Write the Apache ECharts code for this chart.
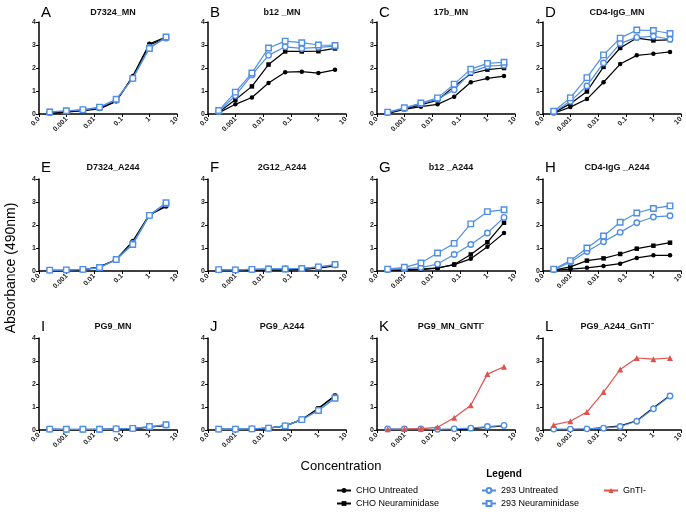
<!DOCTYPE html>
<html>
<head>
<meta charset="utf-8">
<script src="https://cdn.jsdelivr.net/npm/echarts@6/dist/echarts.min.js"></script>
<style>
html,body{margin:0;padding:0;background:#fff;}
#chart{width:686px;height:515px;}
</style>
</head>
<body>
<div id="chart"></div>
<script>
// ---- data ----
const concentrations = [0.000244, 0.000977, 0.0039, 0.0156, 0.0625, 0.25, 1, 4];
const xTickLabels = ["0.0", "0.001", "0.01", "0.1", "1", "10"];
const yTickLabels = ["0", "1", "2", "3", "4"];
const seriesNames = ["CHO Untreated", "CHO Neuraminidase", "293 Untreated", "293 Neuraminidase", "GnTI-"];
const panelLetters = ["A","B","C","D","E","F","G","H","I","J","K","L"];
const panelTitles = ["D7324_MN","b12 _MN","17b_MN","CD4-IgG_MN","D7324_A244","2G12_A244","b12 _A244","CD4-IgG _A244","PG9_MN","PG9_A244","PG9_MN_GNTI\u207B","PG9_A244_GnTI\u207B"];

const A_choUntreated = [0.03,0.08,0.15,0.22,0.55,1.65,3.05,3.35];
const A_choNeuraminidase = [0.04,0.09,0.16,0.25,0.57,1.6,3.0,3.3];
const A_293Untreated = [0.08,0.13,0.18,0.28,0.62,1.55,2.9,3.3];
const A_293Neuraminidase = [0.09,0.14,0.19,0.3,0.64,1.55,2.85,3.35];

const B_choUntreated = [0.05,0.42,0.72,1.35,1.82,1.84,1.78,1.92];
const B_choNeuraminidase = [0.08,0.62,1.2,2.15,2.72,2.72,2.73,2.85];
const B_293Untreated = [0.1,0.8,1.7,2.55,2.92,2.85,2.9,2.95];
const B_293Neuraminidase = [0.15,0.95,1.78,2.87,3.17,3.1,3.0,2.98];

const C_choUntreated = [0.03,0.2,0.32,0.42,0.75,1.38,1.55,1.65];
const C_choNeuraminidase = [0.05,0.22,0.4,0.6,1.2,1.75,1.93,2.0];
const C_293Untreated = [0.06,0.24,0.45,0.65,1.05,1.82,2.08,2.12];
const C_293Neuraminidase = [0.08,0.27,0.48,0.7,1.3,1.95,2.2,2.25];

const D_choUntreated = [0.03,0.3,0.65,1.38,2.17,2.55,2.62,2.7];
const D_choNeuraminidase = [0.05,0.45,0.98,2.05,2.87,3.3,3.2,3.22];
const D_293Untreated = [0.08,0.55,1.22,2.22,3.07,3.33,3.38,3.25];
const D_293Neuraminidase = [0.12,0.7,1.58,2.57,3.3,3.65,3.63,3.5];

const E_choUntreated = [0.02,0.03,0.05,0.18,0.5,1.3,2.45,2.8];
const E_choNeuraminidase = [0.02,0.03,0.06,0.17,0.5,1.25,2.43,2.85];
const E_293Untreated = [0.04,0.04,0.07,0.14,0.5,1.2,2.42,2.92];
const E_293Neuraminidase = [0.04,0.05,0.07,0.15,0.5,1.15,2.42,2.97];

const F_choUntreated = [0.03,0.03,0.04,0.05,0.05,0.07,0.12,0.22];
const F_choNeuraminidase = [0.03,0.03,0.04,0.06,0.06,0.08,0.14,0.24];
const F_293Untreated = [0.05,0.05,0.07,0.09,0.09,0.11,0.17,0.27];
const F_293Neuraminidase = [0.06,0.05,0.07,0.09,0.09,0.11,0.18,0.28];

const G_choUntreated = [0.03,0.04,0.06,0.12,0.28,0.53,1.05,1.65];
const G_choNeuraminidase = [0.04,0.06,0.08,0.14,0.28,0.72,1.25,2.1];
const G_293Untreated = [0.06,0.1,0.15,0.3,0.72,1.15,1.65,2.33];
const G_293Neuraminidase = [0.08,0.16,0.35,0.78,1.2,2.05,2.58,2.66];

const H_choUntreated = [0.03,0.08,0.14,0.22,0.32,0.57,0.68,0.68];
const H_choNeuraminidase = [0.04,0.18,0.45,0.55,0.74,0.97,1.1,1.23];
const H_293Untreated = [0.06,0.38,0.85,1.27,1.68,2.1,2.35,2.4];
const H_293Neuraminidase = [0.08,0.45,1.0,1.52,2.12,2.52,2.72,2.83];

const I_choUntreated = [0.02,0.02,0.02,0.02,0.04,0.06,0.12,0.2];
const I_choNeuraminidase = [0.03,0.02,0.02,0.03,0.04,0.06,0.13,0.21];
const I_293Untreated = [0.04,0.03,0.03,0.03,0.05,0.07,0.14,0.22];
const I_293Neuraminidase = [0.04,0.03,0.03,0.03,0.05,0.07,0.15,0.23];

const J_choUntreated = [0.03,0.03,0.04,0.08,0.18,0.45,0.95,1.5];
const J_choNeuraminidase = [0.03,0.03,0.04,0.08,0.18,0.45,0.93,1.48];
const J_293Untreated = [0.04,0.04,0.05,0.08,0.18,0.45,0.86,1.4];
const J_293Neuraminidase = [0.04,0.04,0.05,0.08,0.18,0.45,0.85,1.38];

const K_choUntreated = [0.02,0.02,0.02,0.02,0.03,0.05,0.12,0.18];
const K_293Untreated = [0.05,0.05,0.05,0.03,0.05,0.08,0.15,0.2];
const K_gnti = [0.03,0.04,0.06,0.12,0.53,1.08,2.43,2.75];

const L_choUntreated = [0.02,0.02,0.04,0.1,0.18,0.4,0.97,1.5];
const L_293Untreated = [0.04,0.04,0.05,0.08,0.15,0.38,0.92,1.48];
const L_gnti = [0.22,0.38,0.78,1.65,2.63,3.13,3.08,3.13];

const panelSeries = [
  [A_choUntreated, A_choNeuraminidase, A_293Untreated, A_293Neuraminidase, null],
  [B_choUntreated, B_choNeuraminidase, B_293Untreated, B_293Neuraminidase, null],
  [C_choUntreated, C_choNeuraminidase, C_293Untreated, C_293Neuraminidase, null],
  [D_choUntreated, D_choNeuraminidase, D_293Untreated, D_293Neuraminidase, null],
  [E_choUntreated, E_choNeuraminidase, E_293Untreated, E_293Neuraminidase, null],
  [F_choUntreated, F_choNeuraminidase, F_293Untreated, F_293Neuraminidase, null],
  [G_choUntreated, G_choNeuraminidase, G_293Untreated, G_293Neuraminidase, null],
  [H_choUntreated, H_choNeuraminidase, H_293Untreated, H_293Neuraminidase, null],
  [I_choUntreated, I_choNeuraminidase, I_293Untreated, I_293Neuraminidase, null],
  [J_choUntreated, J_choNeuraminidase, J_293Untreated, J_293Neuraminidase, null],
  [K_choUntreated, null, K_293Untreated, null, K_gnti],
  [L_choUntreated, null, L_293Untreated, null, L_gnti]
];

// ---- layout / style ----
const FONT = "Liberation Sans, Arial, sans-serif";
const BLUE = "#4f8ee6";
const RED = "#e0524c";
const colLeft = [39, 208, 377, 543];
const rowTop = [22, 179, 338];
const gridW = 138, gridH = 92;

const seriesStyle = [
  {symbol:"circle", size:4.5, color:"#000", fill:"#000"},
  {symbol:"rect", size:4.5, color:"#000", fill:"#000"},
  {symbol:"circle", size:5.5, color:BLUE, fill:"#fff"},
  {symbol:"rect", size:5.5, color:BLUE, fill:"#fff"},
  {symbol:"triangle", size:6, color:RED, fill:RED}
];

const grids = [], xAxes = [], yAxes = [], titles = [], series = [];
for (let i = 0; i < 12; i++) {
  const r = Math.floor(i / 4), c = i % 4;
  grids.push({left: colLeft[c], top: rowTop[r], width: gridW, height: gridH});
  xAxes.push({
    type: "log", gridIndex: i, min: 0.0001, max: 10, logBase: 10,
    axisLine: {lineStyle: {color: "#000", width: 1.5}},
    axisTick: {show: true, length: 3, lineStyle: {color: "#000", width: 1}},
    splitLine: {show: false},
    axisLabel: {
      rotate: 45, fontSize: 7, fontWeight: "bold", color: "#222", fontFamily: FONT, margin: 4,
      formatter: v => xTickLabels[Math.round(Math.log10(v)) + 4]
    }
  });
  yAxes.push({
    type: "value", gridIndex: i, min: 0, max: 4, interval: 1,
    axisLine: {show: true, lineStyle: {color: "#000", width: 1.5}},
    axisTick: {show: true, length: 3, lineStyle: {color: "#000"}},
    splitLine: {show: false},
    axisLabel: {fontSize: 7, fontWeight: "bold", color: "#222", fontFamily: FONT, margin: 3,
      formatter: v => yTickLabels[Math.round(v)]}
  });
  titles.push({
    text: panelTitles[i], left: colLeft[c] + gridW / 2, top: rowTop[r] - (r === 0 ? 19 : 21), textAlign: "center",
    textStyle: {fontSize: 9, fontWeight: "bold", color: "#111", fontFamily: FONT}
  });
  titles.push({
    text: panelLetters[i], left: colLeft[c] - 3, top: rowTop[r] - (r === 0 ? 22 : 24),
    textStyle: {fontSize: 15, fontWeight: "normal", color: "#000", fontFamily: FONT}
  });
  panelSeries[i].forEach((arr, j) => {
    if (!arr) return;
    const st = seriesStyle[j];
    series.push({
      type: "line", name: seriesNames[j], xAxisIndex: i, yAxisIndex: i,
      data: concentrations.map((x, k) => [x, arr[k]]),
      symbol: st.symbol, symbolSize: st.size, showAllSymbol: true,
      lineStyle: {color: st.color, width: 1.2},
      itemStyle: {color: st.fill, borderColor: st.color, borderWidth: j >= 2 && j < 4 ? 1.4 : 0},
      emphasis: {disabled: true},
      animation: false, z: 2 + j
    });
  });
}

const legendPos = [
  {name: "CHO Untreated", left: 336, top: 486},
  {name: "CHO Neuraminidase", left: 336, top: 499},
  {name: "293 Untreated", left: 481, top: 486},
  {name: "293 Neuraminidase", left: 481, top: 499},
  {name: "GnTI-", left: 603, top: 486}
];
const legends = legendPos.map(p => ({
  data: [p.name], left: p.left, top: p.top, orient: "horizontal", padding: 0,
  itemWidth: 14, itemHeight: 6, selectedMode: false,
  textStyle: {fontSize: 9, color: "#000", fontFamily: FONT}
}));

const option = {
  backgroundColor: "#fff",
  animation: false,
  title: titles,
  grid: grids,
  xAxis: xAxes,
  yAxis: yAxes,
  series: series,
  legend: legends,
  graphic: [
    {type: "text", x: 11, y: 268, rotation: Math.PI / 2,
      style: {text: "Absorbance (490nm)", font: "14px " + FONT, fill: "#000", textAlign: "center", textVerticalAlign: "middle"}},
    {type: "text", x: 341, y: 466,
      style: {text: "Concentration", font: "13px " + FONT, fill: "#000", textAlign: "center", textVerticalAlign: "middle"}},
    {type: "text", x: 504, y: 474,
      style: {text: "Legend", font: "bold 10px " + FONT, fill: "#000", textAlign: "center", textVerticalAlign: "middle"}}
  ]
};

const chart = echarts.init(document.getElementById("chart"), null, {renderer: "canvas"});
chart.setOption(option);
</script>
</body>
</html>
